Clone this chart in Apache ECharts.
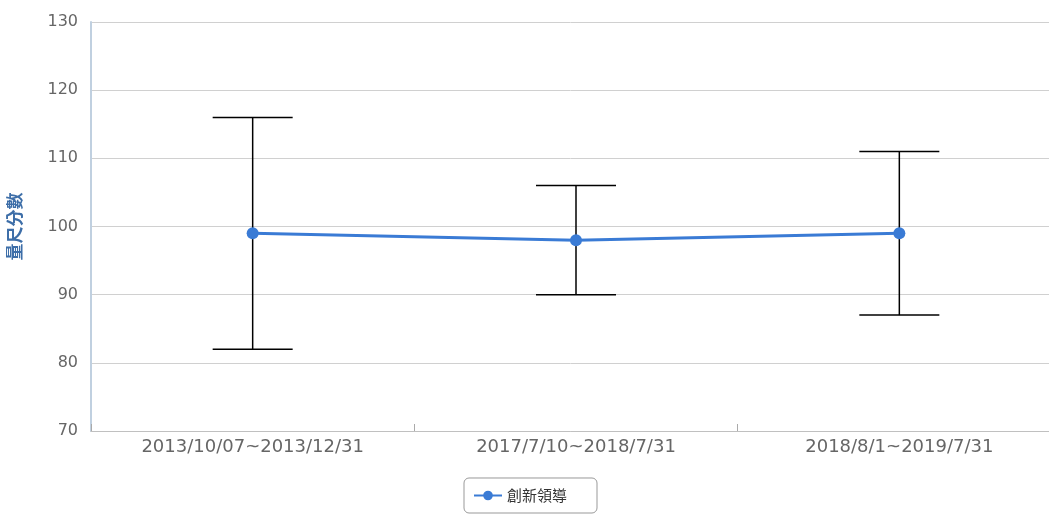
<!DOCTYPE html>
<html>
<head>
<meta charset="utf-8">
<script src="https://cdn.jsdelivr.net/npm/echarts@6/dist/echarts.min.js"></script>
<style>
  html, body { margin: 0; padding: 0; background: #fff; }
  #chart { width: 1049px; height: 515px; }
</style>
</head>
<body>
<div id="chart"></div>
<script>
const categories = ['2013/10/07~2013/12/31', '2017/7/10~2018/7/31', '2018/8/1~2019/7/31']
const scores = [99, 98, 99]
const lows = [82, 90, 87]
const highs = [116, 106, 111]
const seriesName = '創新領導'
const axisName = '量尺分數'

const chart = echarts.init(document.getElementById('chart'))

const errorData = categories.map((c, i) => [i, lows[i], highs[i]])

chart.setOption({
  animation: false,
  textStyle: {
    fontFamily: '"DejaVu Sans", "Noto Sans CJK TC", sans-serif'
  },
  grid: {
    left: 91,
    right: -12,
    top: 22,
    bottom: 84,
    outerBoundsMode: 'none'
  },
  legend: {
    bottom: 2,
    left: 464,
    data: [seriesName],
    borderColor: '#999',
    borderWidth: 1,
    borderRadius: 5,
    padding: [10, 30, 10, 9],
    itemWidth: 28,
    itemHeight: 12,
    itemGap: 8,
    textStyle: {
      fontSize: 15,
      color: '#333',
      fontFamily: '"Noto Sans CJK TC", sans-serif'
    }
  },
  xAxis: {
    type: 'category',
    data: categories,
    axisLine: { lineStyle: { color: '#c0c0c0', width: 1 } },
    axisTick: { show: true, interval: 0, inside: true, length: 7, lineStyle: { color: '#aaa', width: 1 } },
    axisLabel: { color: '#666', fontSize: 18, margin: 7 },
    splitLine: { show: false }
  },
  yAxis: {
    type: 'value',
    min: 70,
    max: 130,
    interval: 10,
    name: axisName,
    nameLocation: 'middle',
    nameGap: 68,
    nameRotate: 90,
    nameTextStyle: {
      color: '#3d6ea8',
      fontSize: 17,
      fontWeight: 'bold',
      fontFamily: '"Noto Sans CJK TC", sans-serif'
    },
    axisLine: { show: true, lineStyle: { color: '#c0d0e0', width: 2 } },
    axisTick: { show: false },
    axisLabel: { color: '#666', fontSize: 16, margin: 13 },
    splitLine: { lineStyle: { color: '#d0d0d0', width: 1 } }
  },
  series: [
    {
      name: seriesName,
      type: 'line',
      data: scores,
      symbol: 'circle',
      symbolSize: 12,
      z: 3,
      lineStyle: { color: '#3a7bd5', width: 3 },
      itemStyle: { color: '#3a7bd5' }
    },
    {
      name: 'error',
      type: 'custom',
      z: 2,
      data: errorData,
      renderItem: function(params, api) {
        const x = api.value(0)
        const lo = api.coord([x, api.value(1)])
        const hi = api.coord([x, api.value(2)])
        const half = 40
        const style = { stroke: '#000', lineWidth: 1.5 }
        return {
          type: 'group',
          children: [
            { type: 'line', shape: { x1: hi[0], y1: hi[1], x2: lo[0], y2: lo[1] }, style: style },
            { type: 'line', shape: { x1: hi[0] - half, y1: hi[1], x2: hi[0] + half, y2: hi[1] }, style: style },
            { type: 'line', shape: { x1: lo[0] - half, y1: lo[1], x2: lo[0] + half, y2: lo[1] }, style: style }
          ]
        }
      }
    }
  ]
})
</script>
</body>
</html>
